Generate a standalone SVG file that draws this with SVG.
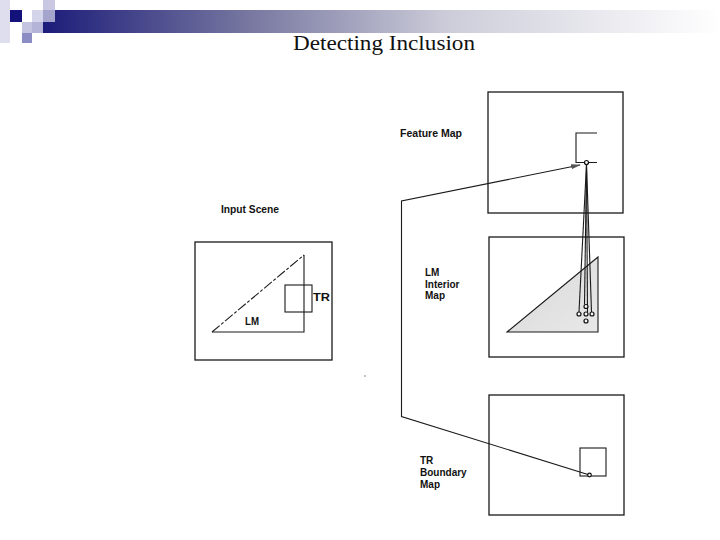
<svg xmlns="http://www.w3.org/2000/svg" width="720" height="540" viewBox="0 0 720 540">
<style>
.box{fill:none;stroke:#1a1a1a;stroke-width:1.3}
.ln{fill:none;stroke:#1a1a1a;stroke-width:1.1}
.lbl{font-family:"Liberation Sans",Arial,sans-serif;font-weight:bold;fill:#111}
.title{font-family:"Liberation Serif","Times New Roman",serif;font-size:20px;fill:#111}
.dot{fill:#f4f4f4;stroke:#111;stroke-width:1.2}
</style>
<defs>
<linearGradient id="bar" x1="0" y1="0" x2="1" y2="0">
<stop offset="0" stop-color="#1c1c7a"/>
<stop offset="0.3" stop-color="#7676a0"/>
<stop offset="0.6" stop-color="#cdcdda"/>
<stop offset="1" stop-color="#ffffff"/>
</linearGradient>
<linearGradient id="tri" x1="0" y1="0" x2="1" y2="1">
<stop offset="0" stop-color="#d8d8d8"/>
<stop offset="1" stop-color="#e8e8e8"/>
</linearGradient>
<marker id="arr" viewBox="0 0 10 6" refX="9" refY="3" markerWidth="10" markerHeight="6" markerUnits="userSpaceOnUse" orient="auto">
<path d="M0,0.5 L10,3 L0,5.5 Z" fill="#555"/>
</marker>
</defs>
<rect width="720" height="540" fill="#ffffff"/>
<g id="header">
<rect x="0" y="0" width="10" height="43" fill="#dedeee"/>
<rect x="43" y="10" width="677" height="23" fill="url(#bar)"/>
<rect x="10" y="10" width="12" height="12" fill="#12127a"/>
<rect x="32" y="10" width="11" height="12" fill="#d4d4ea"/>
<rect x="43" y="0" width="12" height="10" fill="#c8c8e2"/>
<rect x="43" y="10" width="12" height="12" fill="#a4a4cc"/>
<rect x="22" y="22" width="10" height="11" fill="#c4c4e0"/>
<rect x="32" y="22" width="11" height="11" fill="#b4b4d8"/>
<rect x="22" y="33" width="10" height="10" fill="#8c8cc4"/>
</g>
<text class="title" x="384" y="50" text-anchor="middle" textLength="182" lengthAdjust="spacingAndGlyphs">Detecting Inclusion</text>
<g id="input-scene">
<text class="lbl" x="221" y="213" font-size="10" textLength="58" lengthAdjust="spacingAndGlyphs">Input Scene</text>
<rect class="box" x="195" y="242" width="137" height="118"/>
<path class="ln" d="M304,255 L304,332 L212,332"/>
<path class="ln" d="M212,332 L304,255" stroke-dasharray="10 2 3 2"/>
<rect class="ln" x="285" y="285" width="27" height="27"/>
<text class="lbl" x="313" y="301" font-size="10" textLength="17" lengthAdjust="spacingAndGlyphs">TR</text>
<text class="lbl" x="245" y="325" font-size="10" textLength="14" lengthAdjust="spacingAndGlyphs">LM</text>
</g>
<g id="feature-map">
<text class="lbl" x="400" y="137" font-size="10" textLength="62" lengthAdjust="spacingAndGlyphs">Feature Map</text>
<rect class="box" x="488" y="92" width="135" height="121"/>
<path class="ln" d="M597,133 L576,133 L576,162.5 L597,162.5"/>
<circle class="dot" cx="586.5" cy="162.5" r="2"/>
</g>
<g id="lm-interior-map">
<text class="lbl" font-size="10"><tspan x="425" y="276">LM</tspan><tspan x="425" y="287.5">Interior</tspan><tspan x="425" y="299">Map</tspan></text>
<rect class="box" x="489" y="237" width="135" height="120"/>
<path d="M507,332 L598,257 L598,332 Z" fill="url(#tri)" stroke="#1a1a1a" stroke-width="1.1"/>
</g>
<g id="tr-boundary-map">
<text class="lbl" font-size="10"><tspan x="420" y="464">TR</tspan><tspan x="420" y="476">Boundary</tspan><tspan x="420" y="488">Map</tspan></text>
<rect class="box" x="489" y="395" width="135" height="120"/>
<rect class="ln" x="580" y="448" width="26" height="28"/>
</g>
<g id="connectors">
<path class="ln" d="M589.5,475 L401.5,416.5 L401.5,201 L580,165" marker-end="url(#arr)"/>
<line class="ln" x1="586.5" y1="164" x2="579" y2="312" stroke-width="0.9"/>
<line class="ln" x1="586.5" y1="164" x2="584.5" y2="304.5" stroke-width="0.9"/>
<line class="ln" x1="586.5" y1="164" x2="587.5" y2="312" stroke-width="0.9"/>
<line class="ln" x1="586.5" y1="164" x2="591.5" y2="312" stroke-width="0.9"/>
<circle class="dot" cx="579" cy="314" r="2"/>
<circle class="dot" cx="586" cy="306.5" r="2"/>
<circle class="dot" cx="586" cy="314" r="2"/>
<circle class="dot" cx="592" cy="314" r="2"/>
<circle class="dot" cx="586" cy="321" r="2"/>
<circle class="dot" cx="589.5" cy="475" r="1.8"/>
</g>
<circle cx="365" cy="376" r="0.8" fill="#777"/>
</svg>
